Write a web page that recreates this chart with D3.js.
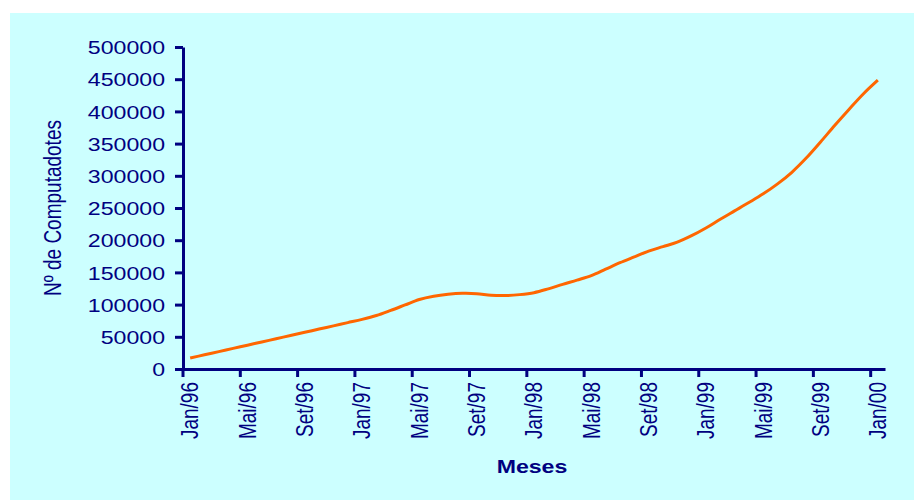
<!DOCTYPE html>
<html>
<head>
<meta charset="utf-8">
<script src="https://cdn.jsdelivr.net/npm/d3@7"></script>
<style>
  body { margin: 0; background: #fff; }
  svg { display: block; }
</style>
</head>
<body>
<div class="canvas"></div>
<script>
// Month categories, Jan/96 .. Jan/00
const meses = [
  'Jan/96','Fev/96','Mar/96','Abr/96','Mai/96','Jun/96','Jul/96','Ago/96','Set/96','Out/96','Nov/96','Dez/96',
  'Jan/97','Fev/97','Mar/97','Abr/97','Mai/97','Jun/97','Jul/97','Ago/97','Set/97','Out/97','Nov/97','Dez/97',
  'Jan/98','Fev/98','Mar/98','Abr/98','Mai/98','Jun/98','Jul/98','Ago/98','Set/98','Out/98','Nov/98','Dez/98',
  'Jan/99','Fev/99','Mar/99','Abr/99','Mai/99','Jun/99','Jul/99','Ago/99','Set/99','Out/99','Nov/99','Dez/99',
  'Jan/00'
]

// Number of computers per month
const computadores = [
  17000, 22000, 27000, 32000, 37000, 42000, 47000, 52000, 57000, 62000, 67000, 72000,
  77000, 83000, 91000, 99500, 108000, 113000, 116000, 117500, 117000, 114500, 114000, 115500,
  118500, 124500, 131500, 138000, 145000, 155000, 165000, 174000, 183000, 190000, 197000, 207000,
  219000, 232500, 245500, 258500, 272000, 287500, 305500, 327500, 352500, 378500, 403500, 427500,
  448500
]

// Labelled ticks on the x axis
const xTickLabels = meses.filter((d, i) => i % 4 === 0)
const yTickValues = d3.range(0, 500001, 50000)

const width = 914
const height = 500
const navy = '#000080'
// text in the picture is stretched sideways
const stretch = 'scale(1.25,1)'

const svg = d3.select('.canvas')
  .append('svg')
    .attr('width', width)
    .attr('height', height)

// Cyan panel
svg.append('rect')
  .attr('x', 10)
  .attr('y', 13)
  .attr('width', width - 10)
  .attr('height', height - 13)
  .attr('fill', '#ccffff')

// Scales
const x = d3.scaleBand()
  .domain(meses)
  .range([183, 885])

const y = d3.scaleLinear()
  .domain([0, 500000])
  .range([369, 47])

// Line
const line = d3.line()
  .x((d, i) => x(meses[i]) + x.bandwidth() / 2)
  .y(d => y(d))
  .curve(d3.curveCatmullRom.alpha(0.5))

svg.append('path')
  .datum(computadores)
  .attr('d', line)
  .attr('fill', 'none')
  .attr('stroke', '#ff6600')
  .attr('stroke-width', 3)
  .attr('stroke-linejoin', 'round')

// Y axis
const yAxis = d3.axisLeft(y)
  .tickValues(yTickValues)
  .tickFormat(d => d)
  .tickSize(8)
  .tickSizeOuter(0)

const yAxisGroup = svg.append('g')
  .attr('transform', 'translate(183,0)')
  .call(yAxis)

// X axis
const xAxis = d3.axisBottom(x)
  .tickValues(xTickLabels)
  .tickSize(8)
  .tickSizeOuter(0)

const xAxisGroup = svg.append('g')
  .attr('transform', 'translate(0,369)')
  .call(xAxis)

// ticks sit on category boundaries, labels in the middle
xAxisGroup.selectAll('.tick line')
  .attr('transform', `translate(${-x.bandwidth() / 2},0)`)

// style both axes
svg.selectAll('.domain, .tick line')
  .attr('stroke', navy)
  .attr('stroke-width', 3)

yAxisGroup.selectAll('text')
  .attr('x', 0)
  .attr('dy', '0.36em')
  .attr('transform', 'translate(-18,0) ' + stretch)
  .attr('fill', navy)
  .attr('font-family', 'Liberation Sans, Arial, sans-serif')
  .attr('font-size', 18.5)

xAxisGroup.selectAll('text')
  .attr('x', 0)
  .attr('y', 0)
  .attr('dy', '0.35em')
  .attr('text-anchor', 'end')
  .attr('transform', 'translate(0,13) ' + stretch + ' rotate(-90)')
  .attr('fill', navy)
  .attr('font-family', 'Liberation Sans, Arial, sans-serif')
  .attr('font-size', 19)

// Axis titles
svg.append('text')
  .attr('transform', 'translate(53,208) ' + stretch + ' rotate(-90)')
  .attr('text-anchor', 'middle')
  .attr('dy', '0.35em')
  .attr('fill', navy)
  .attr('font-family', 'Liberation Sans, Arial, sans-serif')
  .attr('font-size', 19)
  .text('Nº de Computadotes')

svg.append('text')
  .attr('transform', 'translate(532,473) ' + stretch)
  .attr('text-anchor', 'middle')
  .attr('fill', navy)
  .attr('font-family', 'Liberation Sans, Arial, sans-serif')
  .attr('font-weight', 'bold')
  .attr('font-size', 18.5)
  .text('Meses')
</script>
</body>
</html>
